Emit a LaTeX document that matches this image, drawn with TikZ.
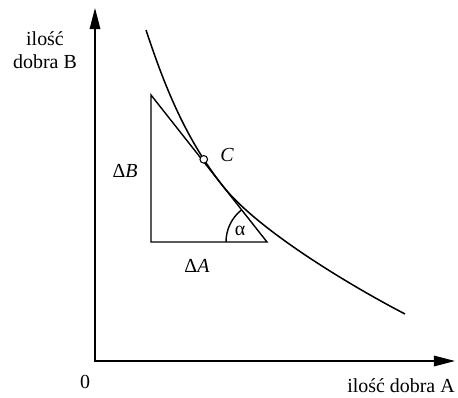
\documentclass[tikz,border=0pt]{standalone}
\usepackage{fontspec}
\setmainfont{Liberation Serif}
\usetikzlibrary{arrows.meta,positioning}
\tikzset{
    axisArrow/.style={
        {Triangle[length=18pt,width=9pt]}-{Triangle[length=18pt,width=9pt]},
        line width=1.3pt
    },
    curveLine/.style={
        line width=1.3pt
    },
    triangleLine/.style={
        line width=1.2pt,
        line join=miter
    },
    plotLabel/.style={
        font=\fontsize{17}{20}\selectfont,
        align=center,
        inner sep=0pt
    },
    pointMark/.style={
        circle,
        draw,
        fill=white,
        line width=0.9pt,
        inner sep=0pt,
        minimum size=6.5pt
    }
}

\begin{document}
\begin{tikzpicture}[x=0.03cm,y=0.03cm]
        \useasboundingbox (-95,-36) rectangle (363,361);

        % axes
        \coordinate (origin) at (0,0);
        \coordinate (xEnd) at (360,0);
        \coordinate (yEnd) at (0,353);
        \draw[axisArrow] (yEnd) -- (origin) -- (xEnd);

        \node[plotLabel] (yLabel) at (-50,311) {ilość\\dobra B};
        \node[plotLabel] (zeroLabel) at (-10,-21) {0};
        \node[plotLabel] (xLabel) at (306,-25) {ilość dobra A};

        % indifference curve, touching the hypotenuse near C
        \coordinate (curveStart) at (51,331);
        \coordinate (tangentPt) at (128,174.8);
        \coordinate (curveEnd) at (310,47);
        \draw[curveLine] (curveStart) .. controls (66,286) and (87.05,226.25) .. (tangentPt) coordinate[pos=0.83] (pointC)
            .. controls (163.1,130.7) and (255,75.6) .. (curveEnd);

        % triangle
        \coordinate (triTop) at (56,266);
        \coordinate (triLeft) at (56,119);
        \coordinate (triRight) at (172,119);
        \draw[triangleLine] (triTop) -- (triLeft) -- (triRight) -- cycle;
        \draw[triangleLine] (triRight) ++(180:41) arc[start angle=180, end angle=128.3, radius=41];

        \node[pointMark] (markC) at (pointC) {};
        \node[plotLabel] (labelC) at (132,206) {\textit{C}};
        \node[plotLabel] (labelDB) at (30,190) {Δ\textit{B}};
        \node[plotLabel] (labelDA) at (102,95) {Δ\textit{A}};
        \node[plotLabel] (labelAlpha) at (145,130) {α};
    \end{tikzpicture}
\end{document}
